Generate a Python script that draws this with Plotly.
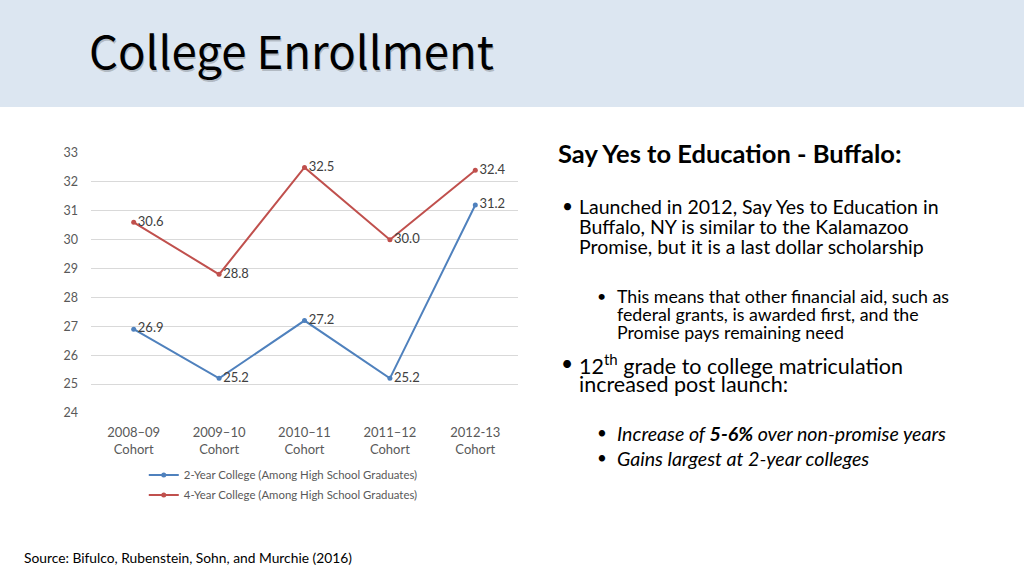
import plotly.graph_objects as go

# ---- data ----
categories = ["2008–09<br>Cohort", "2009–10<br>Cohort", "2010–11<br>Cohort",
              "2011–12<br>Cohort", "2012-13<br>Cohort"]
two_year = [26.9, 25.2, 27.2, 25.2, 31.2]
four_year = [30.6, 28.8, 32.5, 30.0, 32.4]
series_names = ["2-Year College (Among High School Graduates)",
                "4-Year College (Among High School Graduates)"]
y_range = [24, 33]

# ---- layout helpers (pixel -> paper) ----
W, H = 1024, 576
L, R, T, B = 91.3, 517.7, 153.0, 413.0


def px(x):
    return (x - L) / (R - L)


def py(y):
    return (B - y) / (B - T)


FONT = "Lato"
BLUE = "#4f81bd"
RED = "#c0504d"

fig = go.Figure()
for i, (name, vals, col) in enumerate([(series_names[0], two_year, BLUE),
                                       (series_names[1], four_year, RED)]):
    fig.add_trace(go.Scatter(
        x=categories, y=vals, name=name, mode="lines+markers+text",
        text=[f"{v:.1f}" for v in vals], textposition="middle right",
        textfont=dict(family=FONT, size=13, color="#404040"),
        line=dict(color=col, width=2),
        marker=dict(color=col, size=5),
        cliponaxis=False,
        legend="legend" if i == 0 else "legend2",
    ))

shapes = [dict(type="rect", xref="paper", yref="paper", x0=px(0), x1=px(W),
               y0=py(0), y1=py(107), fillcolor="#dce6f1", line=dict(width=0), layer="below")]

ann = []


def text(x, y, s, size, color="#000000", family=FONT, xanchor="left", weight=None):
    f = dict(family=family, size=size, color=color)
    if weight is not None:
        f["weight"] = weight
    ann.append(dict(xref="paper", yref="paper", x=px(x), y=py(y), text=s,
                    showarrow=False, xanchor=xanchor, yanchor="middle", font=f))


# title with soft shadow
text(88.5, 50.5, "College Enrollment", 45.5, color="rgba(0,0,0,0.2)",
     family="Noto Sans CJK JP", weight=400)
text(87, 49, "College Enrollment", 45.5, color="#000000", family="Noto Sans CJK JP", weight=400)

text(556, 153, "<b>Say Yes to Education - Buffalo:</b>", 25.5)

text(560, 205, "•", 19)
text(577, 206, "Launched in 2012, Say Yes to Education in", 19.5)
text(577, 226, "Buffalo, NY is similar to the Kalamazoo", 19.5)
text(577, 246, "Promise, but it is a last dollar scholarship", 19.5)

text(595, 295, "•", 16)
text(615, 296, "This means that other financial aid, such as", 17.8)
text(615, 314, "federal grants, is awarded first, and the", 17.8)
text(615, 332, "Promise pays remaining need", 17.8)

text(559, 362, "•", 21)
text(577, 364, "12<sup>th</sup> grade to college matriculation", 21.5)
text(577, 384, "increased post launch:", 21.5)

text(595, 432, "•", 17)
text(615, 433, "<i>Increase of <b>5-6%</b> over non-promise years</i>", 19.6)
text(595, 457, "•", 17)
text(615, 458, "<i>Gains largest at 2-year colleges</i>", 19.6)

text(22, 557, "Source: Bifulco, Rubenstein, Sohn, and Murchie (2016)", 13.8)

legfont = dict(family=FONT, size=11.4, color="#595959")
fig.update_layout(
    width=W, height=H, autosize=False,
    margin=dict(l=L, r=W - R, t=T, b=H - B, pad=0),
    paper_bgcolor="white", plot_bgcolor="white",
    shapes=shapes, annotations=ann,
    showlegend=True,
    legend=dict(x=px(144), y=py(475), xanchor="left", yanchor="middle",
                font=legfont, bgcolor="rgba(0,0,0,0)"),
    legend2=dict(x=px(144), y=py(495), xanchor="left", yanchor="middle",
                 font=legfont, bgcolor="rgba(0,0,0,0)"),
    xaxis=dict(range=[-0.5, 4.5], showgrid=False, showline=False, zeroline=False, ticks="",
               ticklabelstandoff=10,
               tickfont=dict(family=FONT, size=13, color="#595959")),
    yaxis=dict(range=y_range, dtick=1, showgrid=True, gridcolor="#d9d9d9", gridwidth=1,
               zeroline=False, showline=False, ticks="", ticklabelstandoff=12,
               tickfont=dict(family=FONT, size=12.5, color="#595959")),
)

fig.write_html("out.html", include_plotlyjs=True, full_html=True,
               config={"displayModeBar": False},
               post_script="document.body.style.margin='0';document.body.style.overflow='hidden';")
